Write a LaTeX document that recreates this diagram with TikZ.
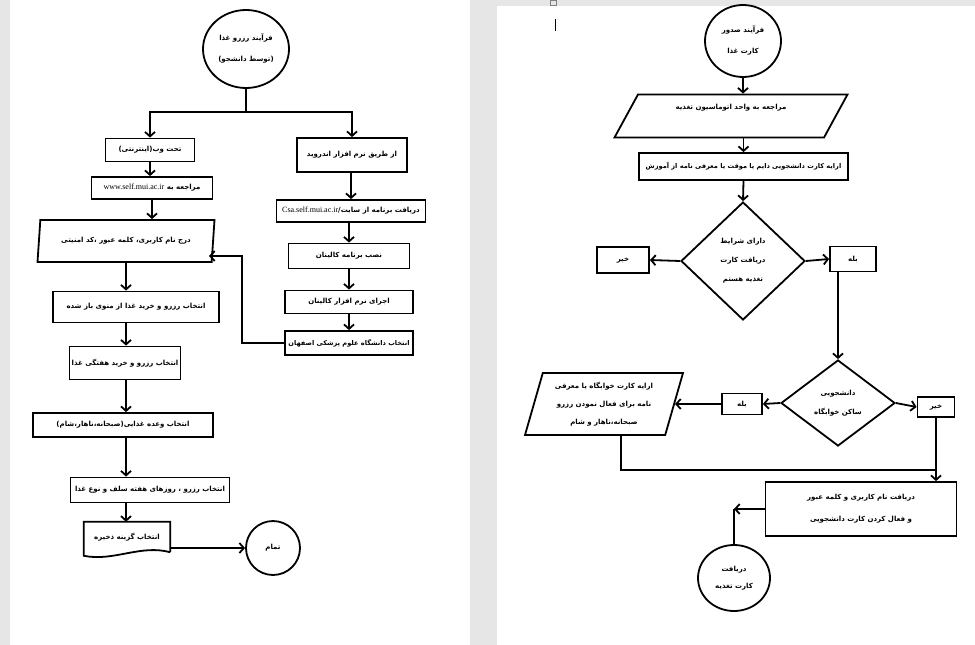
\documentclass[tikz,border=0pt]{standalone}
\usepackage{fontspec}
\usepackage{tikz}
\usetikzlibrary{shapes.geometric,arrows.meta}
\TeXXeTstate=1
\newfontfamily\arabicfont[Script=Arabic]{DejaVu Sans}
\newfontfamily\latinfont{Liberation Serif}
\definecolor{deskgray}{HTML}{E6E6E6}
\newcommand{\fatext}[1]{{\arabicfont\bfseries\beginR #1\endR}}
\newcommand{\urltext}[1]{\beginL{\latinfont\mdseries\fontsize{8}{19}\selectfont #1}\endL}

\begin{document}
\begin{tikzpicture}[x=1pt,y=-1pt,
  every node/.style={font=\fontsize{7}{19}\selectfont, align=center},
  box/.style={draw, line width=1.8pt, inner sep=1pt},
  term/.style={draw, line width=1.8pt, ellipse, inner sep=0pt},
  para/.style={draw, line width=1.8pt, trapezium, trapezium stretches body, inner sep=0pt},
  choice/.style={draw, line width=1.8pt, diamond, inner sep=0pt},
  link/.style={line width=1.8pt},
  flow/.style={line width=1.8pt, -{Straight Barb[length=4.5pt,width=10pt]}}]
  \useasboundingbox (0,0) rectangle (975,645);
  % pages
  \fill[deskgray] (0,0) rectangle (975,645);
  \fill[white] (10,0) rectangle (470,645);
  \fill[white] (497,6) rectangle (975,645);
  \draw[gray, line width=0.5pt] (550,0) rectangle (556,5);
  \draw[line width=0.6pt] (555,19) -- (555,31);

  % reservation process (left page)
  \node[term, minimum width=86, minimum height=78] (start) at (246,49) {\fatext{فرآیند رزرو غذا}\\[2pt]\fatext{(توسط دانشجو)}};
  \node[box, minimum width=89, minimum height=23] (web) at (150,150) {\fatext{تحت وب(اینترنتی)}};
  \node[box, minimum width=121, minimum height=22] (site) at (152,188) {\fatext{مراجعه به \urltext{www.self.mui.ac.ir}}};
  \node[para, trapezium left angle=68, trapezium right angle=112, minimum width=177, minimum height=42] (login) at (126,241) {\fatext{درج نام کاربری، کلمه عبور ،کد امنیتی}};
  \node[box, minimum width=110, minimum height=34] (android) at (352,155) {\fatext{از طریق نرم افزار اندروید}};
  \node[box, minimum width=149, minimum height=22] (download) at (351,211) {\fatext{دریافت برنامه از سایت/\urltext{Csa.self.mui.ac.ir}}};
  \node[box, minimum width=121, minimum height=25] (install) at (349,256) {\fatext{نصب برنامه کالینان}};
  \node[box, minimum width=128, minimum height=23] (run) at (349,302) {\fatext{اجرای نرم افزار کالینان}};
  \node[box, minimum width=128, minimum height=24, font=\fontsize{6.6}{19}\selectfont] (univ) at (349,343) {\fatext{انتخاب دانشگاه علوم پزشکی اصفهان}};
  \node[box, minimum width=166, minimum height=31] (menu) at (136,307) {\fatext{انتخاب رزرو و خرید غذا از منوی باز شده}};
  \node[box, minimum width=111, minimum height=33] (weekly) at (125,363) {\fatext{انتخاب رزرو و خرید هفتگی غذا}};
  \node[box, minimum width=180, minimum height=24] (meal) at (123,425) {\fatext{انتخاب وعده غذایی(صبحانه،ناهار،شام)}};
  \node[box, minimum width=159, minimum height=25] (days) at (150,490) {\fatext{انتخاب رزرو ، روزهای هفته سلف و نوع غذا}};
  \node[minimum width=86, minimum height=30, inner sep=0pt] (save) at (127,537) {\fatext{انتخاب گزینه ذخیره}};
  \draw[line width=1.8pt] (save.south east) -- (save.north east) -- (save.north west) -- ++(0,34)
    .. controls +(30,6) and +(-30,-8) .. (save.south east);
  \node[term, minimum width=54, minimum height=54] (finish) at (273,548) {\fatext{تمام}};

  \coordinate (fork) at (246,112);
  \draw[link] (start) -- (fork);
  \draw[flow] (fork) -| (web.north);
  \draw[flow] (fork) -| (android.north);
  \draw[flow] (web.south) -- (web.south |- site.north);
  \draw[flow] (site.south) -- (site.south |- login.north);
  \draw[flow] (download.north |- android.south) -- (download.north);
  \draw[flow] (install.north |- download.south) -- (install.north);
  \draw[flow] (run.north |- install.south) -- (run.north);
  \draw[flow] (run.south) -- (univ.north);
  \coordinate (back) at (242,256);
  \draw[flow] (univ.west) -| (back) -- ([shift={(-5,15)}]login.east);
  \draw[flow] (login.south) -- (login.south |- menu.north);
  \draw[flow] (login.south |- menu.south) -- (login.south |- weekly.north);
  \draw[flow] (login.south |- weekly.south) -- (login.south |- meal.north);
  \draw[flow] (login.south |- meal.south) -- (login.south |- days.north);
  \draw[flow] (login.south |- days.south) -- (login.south |- save.north);
  \draw[flow] (save.east |- finish.west) -- (finish.west);

  % food card process (right page)
  \node[term, minimum width=76, minimum height=72] (issue) at (743,41) {\fatext{فرآیند صدور}\\[2pt]\fatext{کارت غذا}};
  \node[para, trapezium left angle=46, trapezium right angle=134, minimum width=233, minimum height=43] (visit) at (731,116) {\fatext{مراجعه به واحد اتوماسیون تغذیه}\\\mbox{}};
  \node[box, minimum width=209, minimum height=27, font=\fontsize{6.6}{19}\selectfont] (idcard) at (743.5,166.5) {\fatext{ارایه کارت دانشجویی دایم یا موقت یا معرفی نامه از آموزش}};
  \node[choice, minimum width=124, minimum height=118] (eligible) at (743,261) {\fatext{دارای شرایط}\\\fatext{دریافت کارت}\\\fatext{تغذیه هستم}};
  \node[box, minimum width=52, minimum height=26] (no1) at (623,260) {\fatext{خیر}};
  \node[box, minimum width=46, minimum height=25] (yes1) at (853,259) {\fatext{بله}};
  \node[choice, minimum width=114, minimum height=86] (resident) at (838,403) {\fatext{دانشجویی}\\\fatext{ساکن خوابگاه}};
  \node[box, minimum width=40, minimum height=21] (yes2) at (742,404) {\fatext{بله}};
  \node[box, minimum width=37, minimum height=20] (no2) at (936,407) {\fatext{خیر}};
  \node[para, trapezium left angle=68, trapezium right angle=112, minimum width=158, minimum height=62] (dormcard) at (604,404) {\fatext{ارایه کارت خوابگاه یا معرفی}\\[-1pt]\fatext{نامه برای فعال نمودن رزرو}\\[-1pt]\fatext{صبحانه،ناهار و شام}};
  \node[box, minimum width=191, minimum height=54] (account) at (861,509) {\fatext{دریافت نام کاربری و کلمه عبور}\\[3pt]\fatext{و فعال کردن کارت دانشجویی}};
  \node[term, minimum width=72, minimum height=66] (foodcard) at (734,578) {\fatext{دریافت}\\[-2pt]\fatext{کارت تغذیه}};

  \draw[flow] (issue.south) -- (issue.south |- visit.north);
  \draw[flow] (idcard.north |- visit.south) -- (idcard.north);
  \draw[flow] (idcard.south) -- (eligible.north);
  \draw[flow] (eligible.west) -- (no1.east);
  \draw[flow] (eligible.east) -- (yes1.west);
  \draw[flow] (resident.north |- yes1.south) -- (resident.north);
  \draw[flow] (resident.west) -- (yes2.east);
  \draw[flow] (yes2.west) -- (dormcard.east);
  \draw[flow] (resident.east) -- (no2.west);
  \coordinate (merge) at (937,470);
  \draw[link] ([xshift=17pt]dormcard.south) |- (merge);
  \draw[flow] (no2.south) -- (no2.south |- account.north);
  \coordinate (bend) at (foodcard.north |- account.west);
  \draw[flow] (account.west) -- (bend);
  \draw[link] (bend) -- (foodcard.north);
\end{tikzpicture}
\end{document}
